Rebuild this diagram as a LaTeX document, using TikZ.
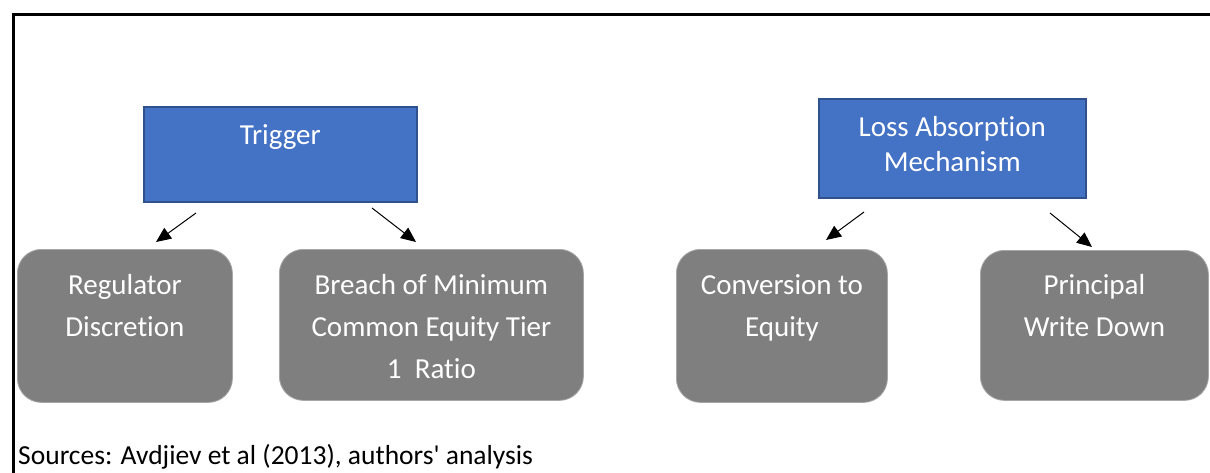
\documentclass[tikz,border=0pt]{standalone}
\usepackage{fontspec}
\setmainfont{Carlito}[Ligatures={NoCommon}]
\usetikzlibrary{arrows.meta}
\definecolor{boxblue}{HTML}{4472C4}
\definecolor{boxblueedge}{HTML}{2F528F}
\definecolor{boxgray}{HTML}{7F7F7F}
\definecolor{boxgrayedge}{HTML}{A6A6A6}
\newcommand{\boxtxt}[5]{\begin{minipage}[t][#2pt][t]{#1pt}\fontsize{29}{#5}\selectfont\centering\vspace*{#3pt}\color{white}#4\par\end{minipage}}
\begin{document}
\begin{tikzpicture}[x=1pt,y=-1pt,
  bluebox/.style={draw=boxblueedge,line width=1.5pt,fill=boxblue,inner sep=0pt,anchor=north west},
  graybox/.style={draw=boxgrayedge,line width=0.8pt,fill=boxgray,rounded corners=24pt,inner sep=0pt,anchor=north west},
  conn/.style={line width=1pt,-{Triangle[length=15pt,width=13pt]}}]
\useasboundingbox (0,0) rectangle (1210,472);
\fill[white] (0,0) rectangle (1210,472);
% frame
\draw[line width=3pt] (13.3,473) -- (13.3,14.7) -- (1211,14.7);
% top boxes
\node[bluebox] (trig) at (143,106) {\boxtxt{273}{95}{17.5}{Trigger}{35}};
\node[bluebox] (lam) at (818,98) {\boxtxt{267}{99}{17.5}{Loss Absorption\\Mechanism}{35}};
% bottom boxes
\node[graybox] (reg) at (17,249) {\boxtxt{215}{153}{25}{Regulator\\Discretion}{42}};
\node[graybox] (brc) at (279,249) {\boxtxt{304}{151}{25}{Breach of Minimum\\Common Equity Tier\\1~ Ratio}{42}};
\node[graybox] (cnv) at (676,249) {\boxtxt{211}{153}{25}{Conversion to\\Equity}{42}};
\node[graybox] (pwd) at (980,250) {\boxtxt{228}{150}{24}{Principal\\Write Down}{42}};
% arrow end points
\coordinate (a1s) at (196,213); \coordinate (a1e) at (156,242);
\coordinate (a2s) at (372,208); \coordinate (a2e) at (416,242);
\coordinate (a3s) at (864,212); \coordinate (a3e) at (826,240);
\coordinate (a4s) at (1050,213); \coordinate (a4e) at (1092,247);
\draw[conn] (a1s) -- (a1e);
\draw[conn] (a2s) -- (a2e);
\draw[conn] (a3s) -- (a3e);
\draw[conn] (a4s) -- (a4e);
% source
\node[anchor=base west,inner sep=0pt,font=\fontsize{27.5}{33}\selectfont] (src) at (18,464) {Sources: Avdjiev et al (2013), authors\textquotesingle{} analysis};
\end{tikzpicture}
\end{document}
